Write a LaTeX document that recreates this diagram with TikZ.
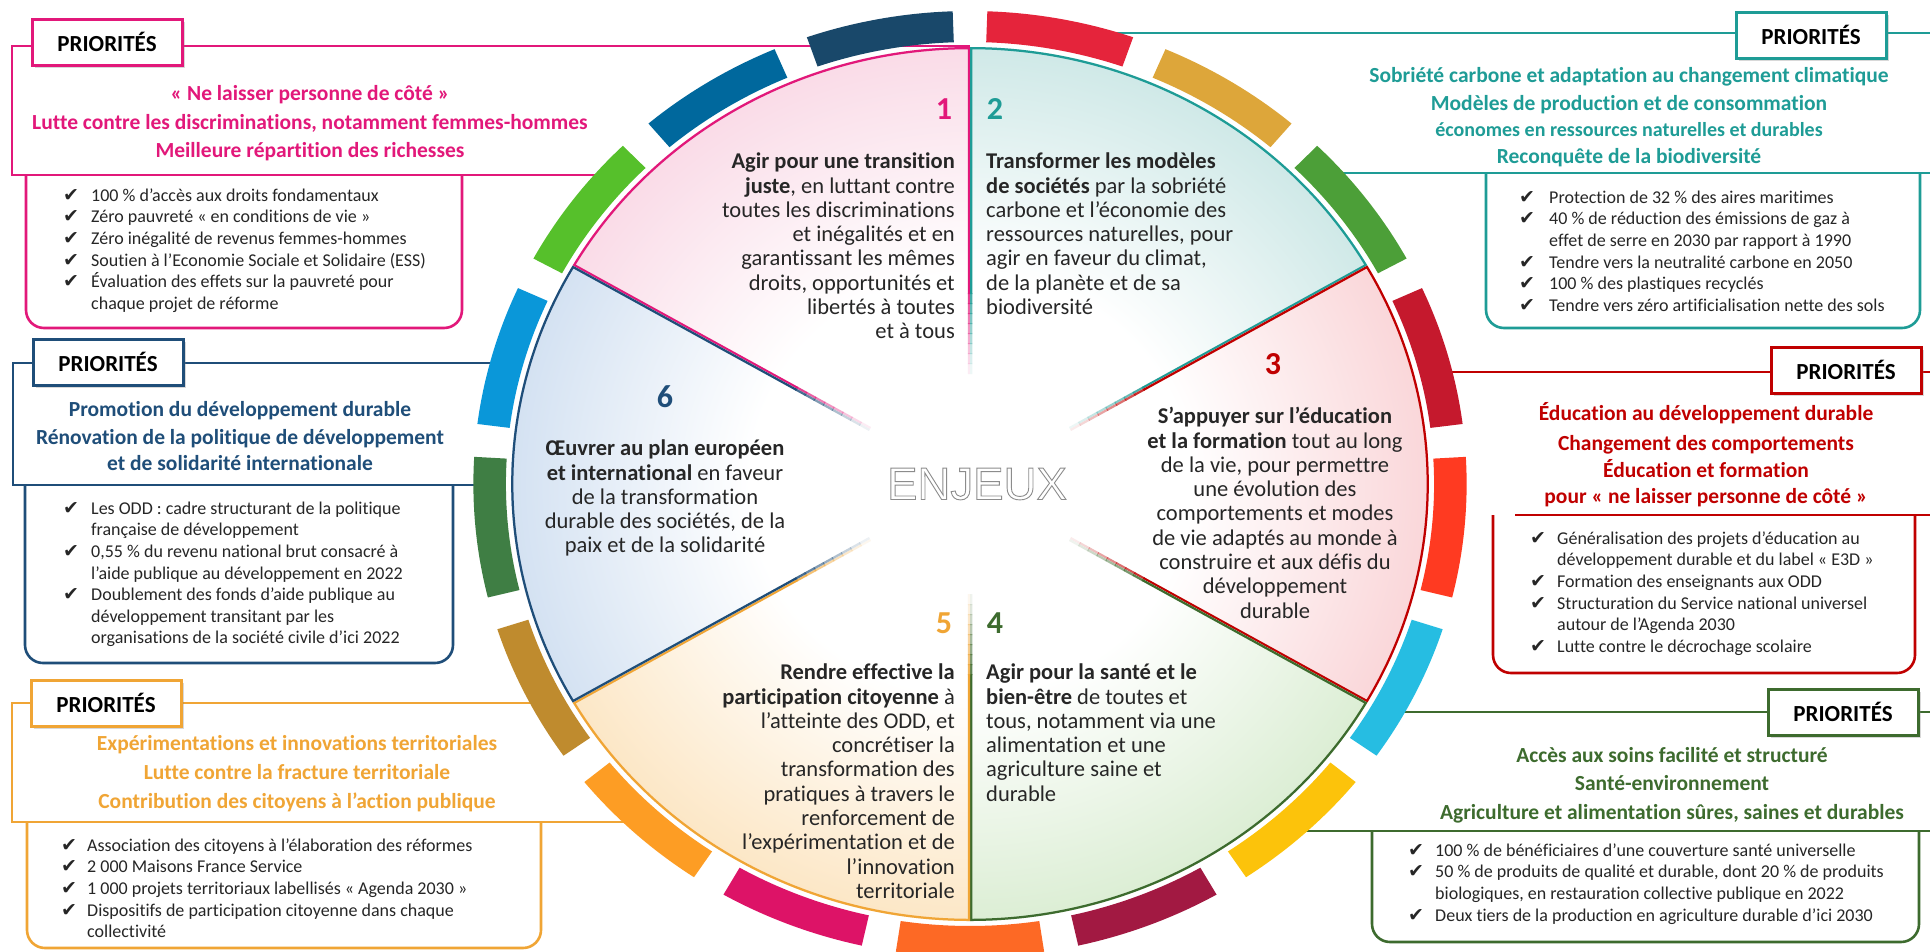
\documentclass[tikz,border=0pt]{standalone}
\usepackage{fontspec}
\setmainfont{Carlito}[Ligatures={NoCommon,TeX}]
\newfontfamily\symf{DejaVu Sans}
\newfontfamily\enjf{Liberation Sans}
\usetikzlibrary{shadows}
% frame / text colours
\definecolor{cA}{HTML}{E2187A}
\definecolor{cB}{HTML}{1E9C96}
\definecolor{cC}{HTML}{C00000}
\definecolor{cD}{HTML}{3D6B2E}
\definecolor{cE}{HTML}{F0A535}
\definecolor{cF}{HTML}{1F4E79}
\definecolor{txt}{HTML}{262626}
% sector fills
\definecolor{fA}{HTML}{F3B2CC}
\definecolor{fB}{HTML}{98CFCC}
\definecolor{fC}{HTML}{F4A8AE}
\definecolor{fD}{HTML}{B3DAA3}
\definecolor{fE}{HTML}{F9CB84}
\definecolor{fF}{HTML}{A2C0E3}
% SDG colours
\definecolor{s1}{HTML}{E5243B}\definecolor{s2}{HTML}{DDA63A}\definecolor{s3}{HTML}{4C9F38}
\definecolor{s4}{HTML}{C5192D}\definecolor{s5}{HTML}{FF3A21}\definecolor{s6}{HTML}{26BDE2}
\definecolor{s7}{HTML}{FCC30B}\definecolor{s8}{HTML}{A21942}\definecolor{s9}{HTML}{FD6925}
\definecolor{s10}{HTML}{DD1367}\definecolor{s11}{HTML}{FD9D24}\definecolor{s12}{HTML}{BF8B2E}
\definecolor{s13}{HTML}{3F7E44}\definecolor{s14}{HTML}{0A97D9}\definecolor{s15}{HTML}{56C02B}
\definecolor{s16}{HTML}{00689D}\definecolor{s17}{HTML}{19486A}
\pgfdeclareradialshading{shA}{\pgfpointorigin}{color(0bp)=(white); color(12bp)=(white); color(40bp)=(fA); color(50bp)=(fA)}
\pgfdeclareradialshading{shB}{\pgfpointorigin}{color(0bp)=(white); color(12bp)=(white); color(40bp)=(fB); color(50bp)=(fB)}
\pgfdeclareradialshading{shC}{\pgfpointorigin}{color(0bp)=(white); color(12bp)=(white); color(40bp)=(fC); color(50bp)=(fC)}
\pgfdeclareradialshading{shD}{\pgfpointorigin}{color(0bp)=(white); color(12bp)=(white); color(40bp)=(fD); color(50bp)=(fD)}
\pgfdeclareradialshading{shE}{\pgfpointorigin}{color(0bp)=(white); color(12bp)=(white); color(40bp)=(fE); color(50bp)=(fE)}
\pgfdeclareradialshading{shF}{\pgfpointorigin}{color(0bp)=(white); color(12bp)=(white); color(40bp)=(fF); color(50bp)=(fF)}
\newcommand\ck{{\symf\fontsize{19}{19}\selectfont ✔}}
\newcommand\hollow[1]{\special{pdf:literal direct 1 Tr 0.9 w}#1\special{pdf:literal direct 0 Tr}}
\begin{document}
\begin{tikzpicture}[x=1pt,y=-1pt,
  frm/.style={line width=2.6pt},
  tabbox/.style={draw, line width=3pt, fill=white, minimum width=150pt, minimum height=46pt, inner sep=0pt,
     font=\fontsize{23}{23}\selectfont\bfseries, text=black,
     drop shadow={opacity=0.3, shadow xshift=3pt, shadow yshift=-3pt}},
  hdr/.style={inner sep=0pt, anchor=base, font=\fontsize{21.5}{26}\selectfont\bfseries},
  lst/.style={inner sep=0pt, anchor=north west, font=\fontsize{18}{21.6}\selectfont, text=txt},
  sect/.style={inner sep=0pt, font=\fontsize{22.5}{24.3}\selectfont, text=txt},
  numb/.style={inner sep=0pt, anchor=center, font=\fontsize{32}{32}\selectfont\bfseries}]
\useasboundingbox (0,0) rectangle (1930,951);
\clip (0,0) rectangle (1930,951);
\fill[white] (0,0) rectangle (1930,951);

% ---------- frames (behind the wheel) ----------
\draw[frm,cA] (970,46) -- (12,46) -- (12,175) -- (600,175);
\draw[frm,cA,rounded corners=18] (26,175) -- (26,328) -- (462,328) -- (462,175);
\draw[frm,cF] (500,363) -- (13,363) -- (13,485) -- (500,485);
\draw[frm,cF,rounded corners=18] (25,485) -- (25,663) -- (453,663) -- (453,485);
\draw[frm,cE] (560,703) -- (12,703) -- (12,822) -- (640,822);
\draw[frm,cE,rounded corners=18] (27,822) -- (27,948) -- (541,948) -- (541,822);
\draw[frm,cB] (1000,33) -- (1940,33);
\draw[frm,cB] (1330,173) -- (1940,173);
\draw[frm,cB,rounded corners=18] (1486,173) -- (1486,328) -- (1920,328) -- (1920,173);
\draw[frm,cC] (1445,372) -- (1940,372);
\draw[frm,cC] (1515,515) -- (1940,515);
\draw[frm,cC,rounded corners=18] (1493,515) -- (1493,673) -- (1915,673) -- (1915,515);
\draw[frm,cD] (1400,712) -- (1940,712);
\draw[frm,cD] (1300,831) -- (1940,831);
\draw[frm,cD,rounded corners=18] (1372,831) -- (1372,942) -- (1919,942) -- (1919,831);

% ---------- wheel ----------
\begin{scope}[shift={(970,484)}, xscale=1.05, yscale=-1]
  \foreach \k/\cc in {1/s1,2/s2,3/s3,4/s4,5/s5,6/s6,7/s7,8/s8,9/s9,10/s10,11/s11,12/s12,13/s13,14/s14,15/s15,16/s16,17/s17}{
    \pgfmathsetmacro\angA{90-(\k-1)*360/17-2}
    \pgfmathsetmacro\angB{90-\k*360/17+2}
    \fill[color=\cc] (\angA:442) arc[start angle=\angA, end angle=\angB, radius=442]
       -- (\angB:473) arc[start angle=\angB, end angle=\angA, radius=473] -- cycle;
  }
  \foreach \angA/\angB/\sh/\cc in {90/150/shA/cA, 30/90/shB/cB, -30/30/shC/cC, -90/-30/shD/cD, -150/-90/shE/cE, 150/210/shF/cF}{
    \begin{scope}
      \clip (0,0) -- (\angA:437) arc[start angle=\angA, end angle=\angB, radius=437] -- cycle;
      \shade[shading=\sh] (0,0) circle (437);
      \draw[color=\cc, line width=4.5pt] (\angA:190) -- (\angA:437) arc[start angle=\angA, end angle=\angB, radius=437] -- (\angB:190);
      \foreach \rA/\rB/\op in {110/121/0.08,120/131/0.16,130/141/0.26,140/151/0.36,150/161/0.46,160/171/0.56,170/181/0.68,180/191/0.82}{
        \draw[color=\cc, line width=4.5pt, opacity=\op] (\angA:\rA) -- (\angA:\rB) (\angB:\rA) -- (\angB:\rB);
      }
    \end{scope}
  }
\end{scope}

% ---------- tabs ----------
\node[tabbox,draw=cA] (tab1) at (107,42) {PRIORITÉS};
\node[tabbox,draw=cF] (tab6) at (108,362) {PRIORITÉS};
\node[tabbox,draw=cE] (tab5) at (106,703) {PRIORITÉS};
\node[tabbox,draw=cB] (tab2) at (1811,35) {PRIORITÉS};
\node[tabbox,draw=cC] (tab3) at (1846,370) {PRIORITÉS};
\node[tabbox,draw=cD] (tab4) at (1843,712) {PRIORITÉS};

% ---------- headers ----------
\node[hdr,text=cA] (h1a) at (310,100) {«~Ne laisser personne de côté~»};
\node[hdr,text=cA] (h1b) at (310,129) {Lutte contre les discriminations, notamment femmes-hommes};
\node[hdr,text=cA] (h1c) at (310,157) {Meilleure répartition des richesses};

\node[hdr,text=cF] (h6a) at (240,416) {Promotion du développement durable};
\node[hdr,text=cF] (h6b) at (240,444) {Rénovation de la politique de développement};
\node[hdr,text=cF] (h6c) at (240,470) {et de solidarité internationale};

\node[hdr,text=cE] (h5a) at (297,750) {Expérimentations et innovations territoriales};
\node[hdr,text=cE] (h5b) at (297,779) {Lutte contre la fracture territoriale};
\node[hdr,text=cE] (h5c) at (297,808) {Contribution des citoyens à l’action publique};

\node[hdr,text=cB] (h2a) at (1629,82) {Sobriété carbone et adaptation au changement climatique};
\node[hdr,text=cB] (h2b) at (1629,110) {Modèles de production et de consommation};
\node[hdr,text=cB,font=\fontsize{20}{24}\selectfont\bfseries] (h2c) at (1629,136) {économes en ressources naturelles et durables};
\node[hdr,text=cB] (h2d) at (1629,163) {Reconquête de la biodiversité};

\node[hdr,text=cC] (h3a) at (1706,420) {Éducation au développement durable};
\node[hdr,text=cC] (h3b) at (1706,450) {Changement des comportements};
\node[hdr,text=cC] (h3c) at (1706,477) {Éducation et formation};
\node[hdr,text=cC] (h3d) at (1706,503) {pour «~ne laisser personne de côté~»};

\node[hdr,text=cD] (h4a) at (1672,762) {Accès aux soins facilité et structuré};
\node[hdr,text=cD] (h4b) at (1672,790) {Santé-environnement};
\node[hdr,text=cD] (h4c) at (1672,819) {Agriculture et alimentation sûres, saines et durables};

% ---------- lists ----------
\node[lst] (l1) at (63,184) {\begin{tabular}[t]{@{}p{28pt}@{}l@{}}
\rule{0pt}{17pt}\ck & 100~\% d’accès aux droits fondamentaux\\
\ck & Zéro pauvreté «~en conditions de vie~»\\
\ck & Zéro inégalité de revenus femmes-hommes\\
\ck & Soutien à l’Economie Sociale et Solidaire (ESS)\\
\ck & Évaluation des effets sur la pauvreté pour\\
 & chaque projet de réforme
\end{tabular}};
\node[lst] (l6) at (63,497) {\begin{tabular}[t]{@{}p{28pt}@{}l@{}}
\rule{0pt}{17pt}\ck & Les ODD : cadre structurant de la politique\\
 & française de développement\\
\ck & 0,55~\% du revenu national brut consacré à\\
 & l’aide publique au développement en 2022\\
\ck & Doublement des fonds d’aide publique au\\
 & développement transitant par les\\
 & organisations de la société civile d’ici 2022
\end{tabular}};
\node[lst] (l5) at (61,834) {\begin{tabular}[t]{@{}p{26pt}@{}l@{}}
\rule{0pt}{17pt}\ck & Association des citoyens à l'élaboration des réformes\\
\ck & 2 000 Maisons France Service\\
\ck & 1 000 projets territoriaux labellisés «~Agenda 2030~»\\
\ck & Dispositifs de participation citoyenne dans chaque\\
 & collectivité
\end{tabular}};
\node[lst] (l2) at (1519,186) {\begin{tabular}[t]{@{}p{30pt}@{}l@{}}
\rule{0pt}{17pt}\ck & Protection de 32~\% des aires maritimes\\
\ck & 40~\% de réduction des émissions de gaz à\\
 & effet de serre en 2030 par rapport à 1990\\
\ck & Tendre vers la neutralité carbone en 2050\\
\ck & 100~\% des plastiques recyclés\\
\ck & Tendre vers zéro artificialisation nette des sols
\end{tabular}};
\node[lst] (l3) at (1530,527) {\begin{tabular}[t]{@{}p{27pt}@{}l@{}}
\rule{0pt}{17pt}\ck & Généralisation des projets d'éducation au\\
 & développement durable et du label «~E3D~»\\
\ck & Formation des enseignants aux ODD\\
\ck & Structuration du Service national universel\\
 & autour de l’Agenda 2030\\
\ck & Lutte contre le décrochage scolaire
\end{tabular}};
\node[lst] (l4) at (1408,839) {\begin{tabular}[t]{@{}p{27pt}@{}l@{}}
\rule{0pt}{17pt}\ck & 100~\% de bénéficiaires d’une couverture santé universelle\\
\ck & 50~\% de produits de qualité et durable, dont 20~\% de produits\\
 & biologiques, en restauration collective publique en 2022\\
\ck & Deux tiers de la production en agriculture durable d’ici 2030
\end{tabular}};

% ---------- sector numbers ----------
\node[numb,text=cA] (n1) at (944,109) {1};
\node[numb,text=cB] (n2) at (995,109) {2};
\node[numb,text=cC] (n3) at (1273,364) {3};
\node[numb,text=cD] (n4) at (995,623) {4};
\node[numb,text=cE] (n5) at (944,623) {5};
\node[numb,text=cF] (n6) at (665,397) {6};

% ---------- sector texts ----------
\node[sect,anchor=north east,align=right] (t1) at (955,148.5) {\rule{0pt}{20pt}\textbf{Agir pour une transition}\\
\textbf{juste}, en luttant contre\\ toutes les discriminations\\ et inégalités et en\\ garantissant les mêmes\\
droits, opportunités et\\ libertés à toutes\\ et à tous};
\node[sect,anchor=north west,align=left] (t2) at (986,148.5) {\rule{0pt}{20pt}\textbf{Transformer les modèles}\\
\textbf{de sociétés} par la sobriété\\ carbone et l’économie des\\ ressources naturelles, pour\\
agir en faveur du climat,\\ de la planète et de sa\\ biodiversité};
\node[sect,anchor=north,align=center] (t3) at (1275,403.5) {\rule{0pt}{20pt}\textbf{S’appuyer sur l’éducation}\\
\textbf{et la formation} tout au long\\ de la vie, pour permettre\\ une évolution des\\ comportements et modes\\
de vie adaptés au monde à\\ construire et aux défis du\\ développement\\ durable};
\node[sect,anchor=north west,align=left] (t4) at (986,659.5) {\rule{0pt}{20pt}\textbf{Agir pour la santé et le}\\
\textbf{bien-être} de toutes et\\ tous, notamment via une\\ alimentation et une\\ agriculture saine et\\ durable};
\node[sect,anchor=north east,align=right] (t5) at (955,659.5) {\rule{0pt}{20pt}\textbf{Rendre effective la}\\
\textbf{participation citoyenne} à\\ l’atteinte des ODD, et\\ concrétiser la\\ transformation des\\
pratiques à travers le\\ renforcement de\\ l’expérimentation et de\\ l’innovation\\ territoriale};
\node[sect,anchor=north,align=center] (t6) at (665,435.5) {\rule{0pt}{20pt}\textbf{Œuvrer au plan européen}\\
\textbf{et international} en faveur\\ de la transformation\\ durable des sociétés, de la\\ paix et de la solidarité};

% ---------- centre ----------
\node[inner sep=0pt, font=\enjf\fontsize{45.6}{46}\selectfont, text=black!45] (enj) at (977,484) {\hollow{ENJEUX}};
\end{tikzpicture}
\end{document}
